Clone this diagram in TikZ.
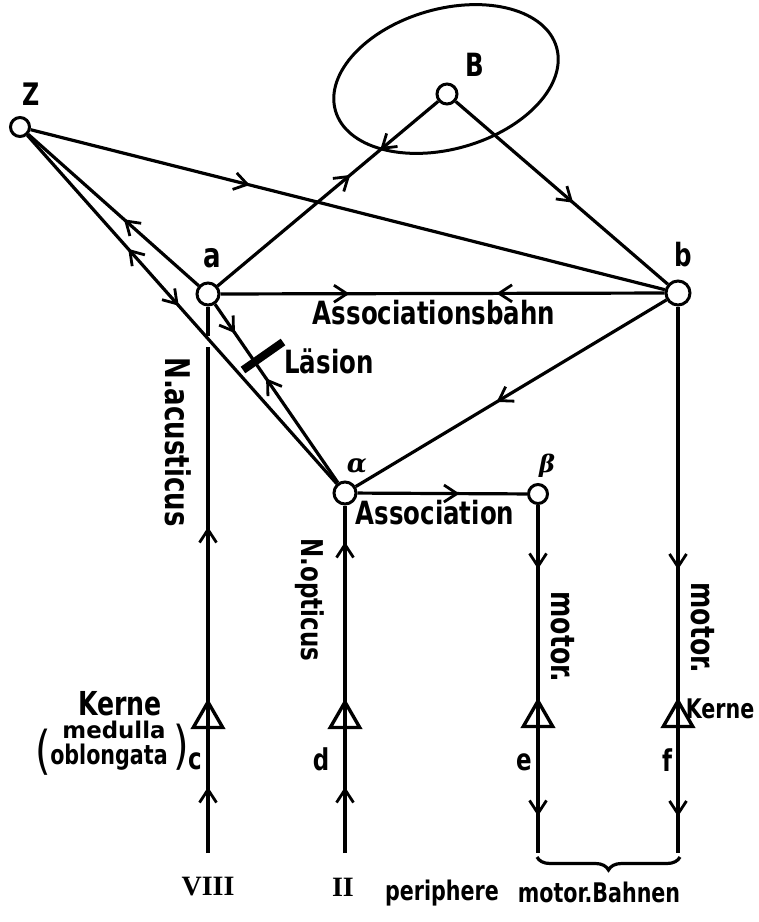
\documentclass[tikz,border=0pt]{standalone}
\usepackage{graphicx}
\usepackage{fontspec}
\setmainfont{DejaVu Sans Condensed}[FakeStretch=0.85]
\newfontfamily\romfont{Liberation Serif}
\newfontfamily\grkfont{DejaVu Serif}
\usetikzlibrary{arrows.meta,decorations.markings,decorations.pathreplacing,shapes.geometric}

\tikzset{
  midbarb/.tip={Straight Barb[length=13pt,width=17pt,line width=2.8pt]},
  fw/.style={postaction={decorate,decoration={markings,mark=at position #1 with {\arrow{midbarb}}}}},
  bw/.style={postaction={decorate,decoration={markings,mark=at position #1 with {\arrowreversed{midbarb}}}}},
  cell/.style={circle,draw,line width=3pt,inner sep=0pt,minimum size=#1},
  kern/.style={regular polygon,regular polygon sides=3,draw,line width=3.4pt,inner sep=0pt,minimum size=34pt},
  lbl/.style={inner sep=0pt,font=\bfseries\fontsize{#1}{#1}\selectfont},
  vlbl/.style={lbl=#1,rotate=-90},
  paren/.style={inner sep=0pt,font=\fontsize{#1}{#1}\selectfont},
}

\begin{document}
\begin{tikzpicture}[x=1pt,y=-1pt,line width=3.2pt]
\fill[white] (0,0) rectangle (759,922);
\useasboundingbox (0,0) rectangle (759,922);

% centres and nuclei
\node[cell=19pt] (Z) at (20,127) {};
\node[draw,ellipse,line width=3pt,inner sep=0pt,minimum width=230pt,minimum height=140pt,rotate=16] (field) at (446,79) {};
\node[cell=20pt] (B) at (447,94) {};
\node[cell=22pt] (a) at (208,294) {};
\node[cell=24pt] (b) at (678,293) {};
\node[cell=22pt] (al) at (345,493) {};
\node[cell=19pt] (be) at (538,494) {};

\node[kern] (kc) at (208,719) {};
\node[kern] (kd) at (345,719) {};
\node[kern] (ke) at (538,718) {};
\node[kern] (kf) at (678,718) {};

\coordinate (cEnd) at (208,853);
\coordinate (dEnd) at (345,853);
\coordinate (eEnd) at (538,853);
\coordinate (fEnd) at (678,853);
\coordinate (gapTop) at (208,336);
\coordinate (gapBot) at (208,347);

% cortical paths
\draw[fw=226pt] (Z) -- (b);
\draw[fw=173pt,bw=212pt] (a) -- (B);
\draw[fw=155pt] (B) -- (b);
\draw[fw=129pt,bw=276pt] (a) -- (b);
\draw[bw=128pt] (Z) -- (a);
\draw[bw=152pt,fw=228pt] (Z) -- (al);
\draw[fw=35pt,bw=90pt] (a) -- (al);
\draw[fw=198pt] (b) -- (al);
\draw[fw=102pt] (al) -- (be);

% lesion
\draw[line width=8pt] (243,370) -- (283,342);

% projection paths
\draw (a) -- (gapTop);
\draw[fw=66pt,fw=326pt] (cEnd) -- (gapBot);
\draw[fw=66pt,fw=311pt] (dEnd) -- (al);
\draw[fw=64pt,fw=311pt] (be) -- (eEnd);
\draw[fw=263pt,fw=510pt] (b) -- (fEnd);

% brace
\draw[decorate,decoration={brace,mirror,amplitude=13pt}] (537,857) -- (680,857);

% labels
\node[lbl=31] (tZ) at (31,94) {Z};
\node[lbl=32] (tB) at (475,65) {B};
\node[lbl=34] (ta) at (212,258) {a};
\node[lbl=32] (tb) at (683,255) {b};
\node[font=\grkfont\bfseries\itshape\fontsize{26}{26}\selectfont,inner sep=0pt] (tal) at (357,466) {α};
\node[font=\grkfont\bfseries\itshape\fontsize{24}{24}\selectfont,inner sep=0pt] (tbe) at (547,466) {β};

\node[lbl=32] (tAb) at (434,313) {Associationsbahn};
\node[lbl=32] (tL) at (329,361) {Läsion};
\node[lbl=32] (tAs) at (435,513) {Association};

\node[vlbl=34] (tNa) at (178,442) {N.acusticus};
\node[vlbl=30] (tNo) at (310,600) {N.opticus};
\node[vlbl=33] (tme) at (563,637) {motor.};
\node[vlbl=33] (tmf) at (703,628) {motor.};

\node[lbl=33] (tK1) at (120,704) {Kerne};
\node[lbl=23] (tmed) at (114,730) {\scalebox{1.3}[1]{medulla}};
\node[lbl=27] (tobl) at (109,757) {oblongata};
\node[paren=52] (lp) at (43,752) {(};
\node[paren=52] (rp) at (181,747) {)};
\node[lbl=30] (tc) at (195,761) {c};
\node[lbl=30] (td) at (321,759) {d};
\node[lbl=30] (te) at (524,762) {e};
\node[lbl=30] (tf) at (667,760) {f};
\node[lbl=27] (tK2) at (720,709) {Kerne};

\node[inner sep=0pt,font=\romfont\bfseries\fontsize{28}{28}\selectfont] (tVIII) at (208,887) {VIII};
\node[inner sep=0pt,font=\romfont\bfseries\fontsize{28}{28}\selectfont] (tII) at (343,887) {II};
\node[lbl=27] (tper) at (442,893) {periphere};
\node[lbl=27] (tmB) at (599,892) {motor.Bahnen};
\end{tikzpicture}
\end{document}
